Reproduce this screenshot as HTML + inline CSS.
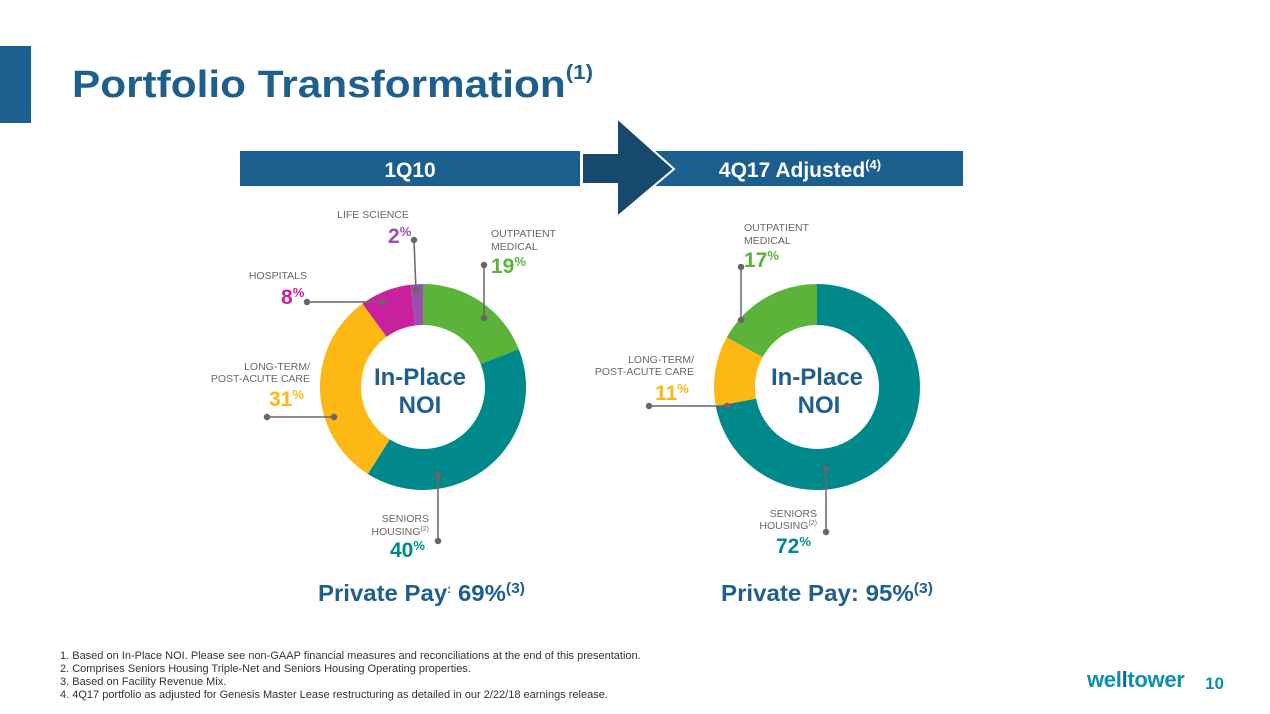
<!DOCTYPE html>
<html><head><meta charset="utf-8">
<style>
body{margin:0;background:#fff;width:1270px;height:714px;overflow:hidden;font-family:"Liberation Sans",Arial,sans-serif;}
svg{position:absolute;left:0;top:0}
</style></head>
<body>
<svg width="1270" height="714" viewBox="0 0 1270 714" font-family="Liberation Sans, Arial, sans-serif">
  <rect x="0" y="46" width="31" height="77" fill="#1B5F8F"/>
  <text x="72" y="97" font-size="38" font-weight="bold" fill="#1E5F8E" textLength="521" lengthAdjust="spacingAndGlyphs">Portfolio Transformation<tspan font-size="20" dy="-18">(1)</tspan></text>

  <rect x="240" y="151" width="340" height="35" fill="#1B5F8F"/>
  <text x="410" y="177" font-size="21" font-weight="bold" fill="#fff" text-anchor="middle">1Q10</text>
  <rect x="655" y="151" width="308" height="35" fill="#1B5F8F"/>
  <text x="800" y="177" font-size="21" font-weight="bold" fill="#fff" text-anchor="middle">4Q17 Adjusted<tspan font-size="13" dy="-8">(4)</tspan></text>
  <polygon points="582,153 617,153 617,118 674,169 617,217 617,184 582,184" fill="#17496E" stroke="#fff" stroke-width="2"/>

  <g id="left"></g>
  <g id="right"></g>

  <g font-size="24" font-weight="bold" fill="#1E5F8E" text-anchor="middle">
    <text x="420" y="385">In-Place</text>
    <text x="420" y="413">NOI</text>
    <text x="817" y="385">In-Place</text>
    <text x="819" y="413">NOI</text>
  </g>

  <g stroke="#6D6468" stroke-width="1.5" fill="#6D6468">
    <line x1="414" y1="240" x2="416" y2="290"/><circle cx="414" cy="240" r="2.5"/><circle cx="416" cy="290" r="2.5"/>
    <line x1="484" y1="265" x2="484" y2="318"/><circle cx="484" cy="265" r="2.5"/><circle cx="484" cy="318" r="2.5"/>
    <line x1="307" y1="302" x2="383" y2="302"/><circle cx="307" cy="302" r="2.5"/><circle cx="383" cy="302" r="2.5"/>
    <line x1="267" y1="417" x2="334" y2="417"/><circle cx="267" cy="417" r="2.5"/><circle cx="334" cy="417" r="2.5"/>
    <line x1="438" y1="475" x2="438" y2="541"/><circle cx="438" cy="475" r="2.5"/><circle cx="438" cy="541" r="2.5"/>
    <line x1="741" y1="267" x2="741" y2="320"/><circle cx="741" cy="267" r="2.5"/><circle cx="741" cy="320" r="2.5"/>
    <line x1="649" y1="406" x2="727" y2="406"/><circle cx="649" cy="406" r="2.5"/><circle cx="727" cy="406" r="2.5"/>
    <line x1="826" y1="469" x2="826" y2="532"/><circle cx="826" cy="469" r="2.5"/><circle cx="826" cy="532" r="2.5"/>
  </g>

  <g font-size="10.5" fill="#6D6468">
    <text x="373" y="218" text-anchor="middle">LIFE SCIENCE</text>
    <text x="491" y="237">OUTPATIENT</text>
    <text x="491" y="250">MEDICAL</text>
    <text x="307" y="279" text-anchor="end">HOSPITALS</text>
    <text x="310" y="370" text-anchor="end">LONG-TERM/</text>
    <text x="310" y="382" text-anchor="end">POST-ACUTE CARE</text>
    <text x="429" y="522" text-anchor="end">SENIORS</text>
    <text x="429" y="535" text-anchor="end">HOUSING<tspan font-size="7" dy="-4">(2)</tspan></text>
    <text x="744" y="231">OUTPATIENT</text>
    <text x="744" y="244">MEDICAL</text>
    <text x="694" y="363" text-anchor="end">LONG-TERM/</text>
    <text x="694" y="375" text-anchor="end">POST-ACUTE CARE</text>
    <text x="817" y="517" text-anchor="end">SENIORS</text>
    <text x="817" y="529" text-anchor="end">HOUSING<tspan font-size="7" dy="-4">(2)</tspan></text>
  </g>
  <g font-size="21" font-weight="bold">
    <text x="388" y="243" fill="#9B4FAE">2<tspan font-size="13" dy="-7">%</tspan></text>
    <text x="491" y="273" fill="#5BB339">19<tspan font-size="13" dy="-7">%</tspan></text>
    <text x="281" y="304" fill="#C9219E">8<tspan font-size="13" dy="-7">%</tspan></text>
    <text x="269" y="406" fill="#FDB813">31<tspan font-size="13" dy="-7">%</tspan></text>
    <text x="390" y="557" fill="#00898A">40<tspan font-size="13" dy="-7">%</tspan></text>
    <text x="744" y="267" fill="#5BB339">17<tspan font-size="13" dy="-7">%</tspan></text>
    <text x="655" y="400" fill="#FDB813">11<tspan font-size="13" dy="-7">%</tspan></text>
    <text x="776" y="553" fill="#00898A">72<tspan font-size="13" dy="-7">%</tspan></text>
  </g>

  <text x="318" y="601" font-size="23" font-weight="bold" fill="#1E5F8E" textLength="207" lengthAdjust="spacingAndGlyphs">Private Pay<tspan font-size="12" dy="-8">:</tspan><tspan dy="8"> 69%</tspan><tspan font-size="15" dy="-8">(3)</tspan></text>
  <text x="721" y="601" font-size="23" font-weight="bold" fill="#1E5F8E" textLength="212" lengthAdjust="spacingAndGlyphs">Private Pay: 95%<tspan font-size="15" dy="-8">(3)</tspan></text>

  <g font-size="11" fill="#333">
    <text x="60" y="659">1. Based on In-Place NOI. Please see non-GAAP financial measures and reconciliations at the end of this presentation.</text>
    <text x="60" y="672">2. Comprises Seniors Housing Triple-Net and Seniors Housing Operating properties.</text>
    <text x="60" y="685">3. Based on Facility Revenue Mix.</text>
    <text x="60" y="698">4. 4Q17 portfolio as adjusted for Genesis Master Lease restructuring as detailed in our 2/22/18 earnings release.</text>
  </g>
  <text x="1087" y="687" font-size="22" font-weight="bold" fill="#0E8FB0" letter-spacing="-0.3">wel<tspan fill="#1B5F8F">l</tspan>tower</text>
  <text x="1205" y="689" font-size="17" font-weight="bold" fill="#0E8FB0">10</text>
</svg>
<script>
const leftCategories = ["Outpatient Medical","Seniors Housing","Long-Term/Post-Acute Care","Hospitals","Life Science"];
const leftValues = [19, 40, 31, 8, 2];
const leftColors = ["#5BB339","#00898A","#FDB813","#C9219E","#9B4FAE"];
const rightCategories = ["Seniors Housing","Long-Term/Post-Acute Care","Outpatient Medical"];
const rightValues = [72, 11, 17];
const rightColors = ["#00898A","#FDB813","#5BB339"];

function drawDonut(gId, values, colors, cats, cx, cy, ro, ri){
  const g = document.getElementById(gId);
  const total = values.reduce((a,b)=>a+b,0);
  let a0 = -Math.PI/2;
  values.forEach((v,i)=>{
    const a1 = a0 + v/total*2*Math.PI;
    const large = (a1-a0) > Math.PI ? 1 : 0;
    const p = (r,a)=>[cx+r*Math.cos(a), cy+r*Math.sin(a)];
    const [x0,y0]=p(ro,a0),[x1,y1]=p(ro,a1),[x2,y2]=p(ri,a1),[x3,y3]=p(ri,a0);
    const path = document.createElementNS("http://www.w3.org/2000/svg","path");
    path.setAttribute("d",`M${x0},${y0}A${ro},${ro} 0 ${large} 1 ${x1},${y1}L${x2},${y2}A${ri},${ri} 0 ${large} 0 ${x3},${y3}Z`);
    path.setAttribute("fill",colors[i]);
    
    
    g.appendChild(path);
    a0 = a1;
  });
}
drawDonut("left", leftValues, leftColors, leftCategories, 423, 387, 103, 62);
drawDonut("right", rightValues, rightColors, rightCategories, 817, 387, 103, 62);
</script>
</body></html>
